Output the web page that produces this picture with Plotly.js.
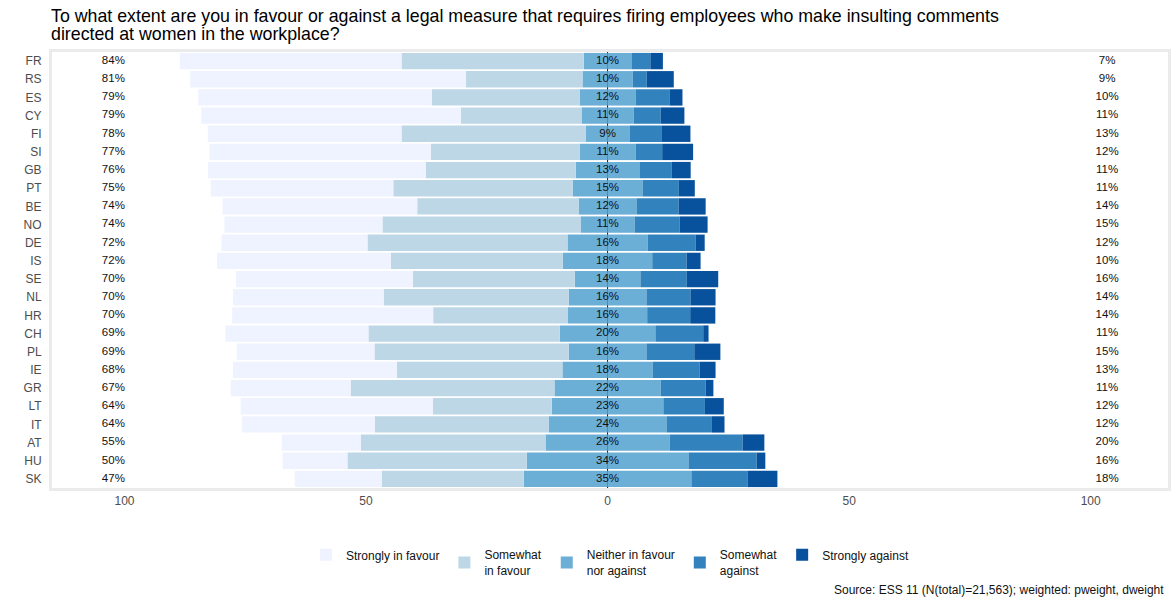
<!DOCTYPE html>
<html>
<head>
<meta charset="utf-8">
<script src="https://cdn.plot.ly/plotly-3.0.1.min.js"></script>
<style>
  body { margin: 0; padding: 0; background: #fff; }
  #myDiv { width: 1174px; height: 606px; }
</style>
</head>
<body>
<div id="myDiv"></div>
<script>
// countries, top to bottom
var countries = ['FR','RS','ES','CY','FI','SI','GB','PT','BE','NO','DE','IS','SE','NL','HR','CH','PL','IE','GR','LT','IT','AT','HU','SK'];

// shares in %
var strongFav = [45.9,57.1,48.3,53.7,40.1,45.8,45.1,37.8,40.3,32.7,30.2,36.0,36.6,31.2,41.6,29.6,28.5,33.9,24.8,39.8,27.5,16.4,13.4,18.0];
var someFav   = [37.7,24.1,30.6,25.0,38.1,30.8,31.0,37.1,33.4,41.0,41.4,35.6,33.5,38.3,27.9,39.6,40.2,34.3,42.2,24.6,36.0,38.2,37.1,29.4];
var neutral   = [9.9,10.4,11.6,10.8,9.1,11.6,13.2,14.5,12.0,11.2,16.6,18.5,13.6,16.1,16.4,19.8,16.1,18.7,22.0,23.1,24.4,25.7,33.5,34.7];
var someAg    = [3.9,2.9,7.0,5.6,6.7,5.5,6.7,7.5,8.7,9.3,9.9,7.1,9.6,9.1,8.9,9.9,9.9,9.7,9.3,8.6,9.4,15.1,14.1,11.6];
var strongAg  = [2.6,5.6,2.7,4.9,5.9,6.4,3.9,3.3,5.6,5.8,1.9,2.9,6.5,5.2,5.2,1.1,5.4,3.3,1.6,3.9,2.6,4.5,1.8,6.2];

// printed labels
var favLabel     = [84,81,79,79,78,77,76,75,74,74,72,72,70,70,70,69,69,68,67,64,64,55,50,47];
var neutralLabel = [10,10,12,11,9,11,13,15,12,11,16,18,14,16,16,20,16,18,22,23,24,26,34,35];
var againstLabel = [7,9,10,11,13,12,11,11,14,15,12,10,16,14,14,11,15,13,11,12,12,20,16,18];

var tickVals = [-100,-50,0,50,100];
var tickText = ['100','50','0','50','100'];

var titleLines = [
    'To what extent are you in favour or against a legal measure that requires firing employees who make insulting comments',
    'directed at women in the workplace?'
];

var colors = ['#EFF3FF','#BDD7E7','#6BAED6','#3182BD','#08519C'];
var names = ['Strongly in favour','Somewhat<br>in favour','Neither in favour<br>nor against','Somewhat<br>against','Strongly against'];

function neg(arr){ return arr.map(function(v){ return -v; }); }
function half(arr, s){ return arr.map(function(v){ return s*v/2; }); }
function pct(arr){ return arr.map(function(v){ return v + '%'; }); }

function bar(x, idx, show){
    return {
        type: 'bar', orientation: 'h',
        x: x, y: countries,
        name: names[idx],
        legendrank: idx + 1,
        showlegend: show,
        marker: { color: colors[idx], line: { width: 0 } },
        hoverinfo: 'skip'
    };
}

var data = [
    bar(half(neutral, -1), 2, false),
    bar(neg(someFav), 1, true),
    bar(neg(strongFav), 0, true),
    bar(half(neutral, 1), 2, true),
    bar(someAg, 3, true),
    bar(strongAg, 4, true)
];

function textTrace(xv, labels){
    return {
        type: 'scatter', mode: 'text',
        x: countries.map(function(){ return xv; }),
        y: countries,
        text: pct(labels),
        textposition: 'middle center',
        textfont: { family: 'Liberation Sans, Arial, sans-serif', size: 11.5, color: '#111' },
        showlegend: false,
        hoverinfo: 'skip'
    };
}
data.push(textTrace(-102.3, favLabel));
data.push(textTrace(0, neutralLabel));
data.push(textTrace(103.4, againstLabel));

// title, one annotation per line (tighter line spacing than <br>)
function titleLine(txt, yy){
    return {
        text: txt,
        xref: 'paper', yref: 'paper',
        x: -0.003, xanchor: 'left',
        y: yy, yanchor: 'middle',
        showarrow: false,
        font: { size: 17.8, color: '#000' }
    };
}

var layout = {
    width: 1174, height: 606,
    margin: { l: 52, r: 6, t: 52, b: 118 },
    paper_bgcolor: '#fff', plot_bgcolor: '#fff',
    font: { family: 'Liberation Sans, Arial, sans-serif', size: 12, color: '#4D4D4D' },
    barmode: 'relative',
    bargap: 0.1,
    xaxis: {
        range: [-115, 116],
        tickvals: tickVals, ticktext: tickText,
        showgrid: false, zeroline: false,
        ticks: '', ticklen: 0,
        tickfont: { size: 12, color: '#4D4D4D' },
        showline: true, mirror: true, linecolor: '#EBEBEB', linewidth: 3
    },
    yaxis: {
        type: 'category',
        range: [23.5, -0.5],
        showgrid: false, zeroline: false,
        ticks: '', ticklen: 0,
        ticklabelstandoff: 5,
        tickfont: { size: 12, color: '#4D4D4D' },
        showline: true, mirror: true, linecolor: '#EBEBEB', linewidth: 3
    },
    shapes: [{
        type: 'line', xref: 'x', yref: 'paper',
        x0: 0, x1: 0, y0: 0, y1: 1,
        line: { color: '#111', width: 1 },
        layer: 'below'
    }],
    legend: {
        orientation: 'h',
        x: 0.5, xanchor: 'center',
        y: -0.12, yanchor: 'top',
        traceorder: 'normal',
        font: { size: 12, color: '#111' },
        itemwidth: 30
    },
    annotations: [
        titleLine(titleLines[0], 1.0837),
        titleLine(titleLines[1], 1.0424),
        {
            text: 'Source: ESS 11 (N(total)=21,563); weighted: pweight, dweight',
            xref: 'paper', yref: 'paper',
            x: 0.9985, xanchor: 'right',
            y: -0.254, yanchor: 'bottom',
            showarrow: false,
            font: { size: 12, color: '#111' }
        }
    ]
};

Plotly.newPlot('myDiv', data, layout, { displayModeBar: false, staticPlot: true });
</script>
</body>
</html>
